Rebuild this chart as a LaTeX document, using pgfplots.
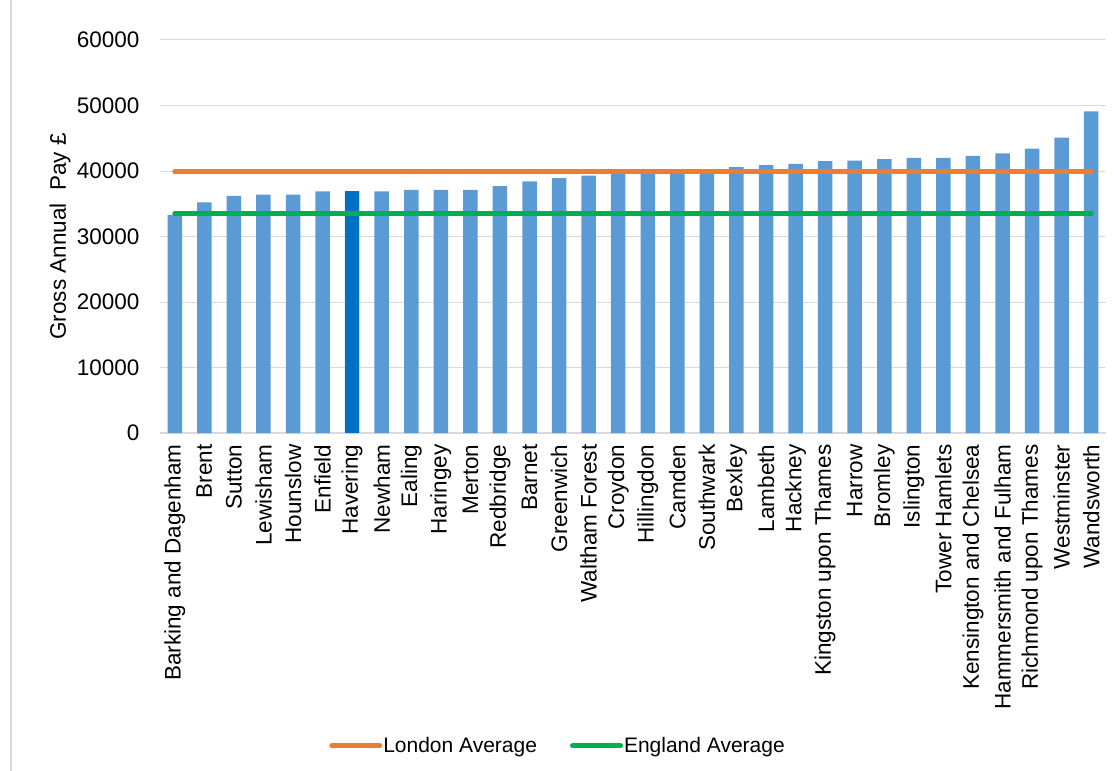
\documentclass[border=0pt]{standalone}
\usepackage{pgfplots}
\pgfplotsset{compat=1.18}
\usepackage{fontspec}
\setmainfont{Liberation Sans}
\definecolor{barblue}{HTML}{5B9BD5}
\definecolor{darkblue}{HTML}{0070C0}
\definecolor{lorange}{HTML}{ED7D31}
\definecolor{egreen}{HTML}{00B050}
\definecolor{gridgray}{HTML}{D9D9D9}
\begin{document}
\begin{tikzpicture}[font=\fontsize{22.5bp}{27bp}\selectfont]
\useasboundingbox (-160bp,-338bp) rectangle (959bp,433bp);
\draw[gridgray, line width=1.5bp] (-149bp,-338bp) -- (-149bp,433bp);
\begin{axis}[
  at={(0,0)}, anchor=south west,
  scale only axis, width=946bp, height=393bp,
  xmin=-0.5, xmax=31.5, ymin=0, ymax=60000,
  ytick={0,10000,...,60000},
  xtick={0,...,31},
  xticklabels={Barking and Dagenham,Brent,Sutton,Lewisham,Hounslow,Enfield,Havering,Newham,Ealing,Haringey,Merton,Redbridge,Barnet,Greenwich,Waltham Forest,Croydon,Hillingdon,Camden,Southwark,Bexley,Lambeth,Hackney,Kingston upon Thames,Harrow,Bromley,Islington,Tower Hamlets,Kensington and Chelsea,Hammersmith and Fulham,Richmond upon Thames,Westminster,Wandsworth},
  scaled y ticks=false,
  /pgf/number format/assume math mode=true,
  yticklabel style={/pgf/number format/fixed, /pgf/number format/1000 sep={}, font=\fontsize{22.5bp}{27bp}\selectfont, xshift=-17bp},
  xticklabel style={rotate=90, anchor=east, font=\fontsize{22.5bp}{27bp}\selectfont, xshift=-8bp},
  major tick length=0pt,
  axis x line*=bottom, axis y line*=left,
  x axis line style={draw=gridgray, line width=1.5bp, -},
  y axis line style={draw=none},
  ymajorgrids, grid style={draw=gridgray, line width=1bp},
  ylabel={Gross Annual\ \ Pay £},
  ylabel style={at={(axis description cs:-0.1057,0.5)}, anchor=center, font=\fontsize{22.5bp}{27bp}\selectfont},
  legend style={at={(axis description cs:0.4202,-0.796)}, anchor=center, draw=none, fill=none, legend columns=2, font=\fontsize{21bp}{25bp}\selectfont, nodes={inner sep=1bp}, /tikz/every even column/.append style={column sep=32bp}},
  legend image code/.code={\draw[#1] (0bp,0bp) -- (48bp,0bp);},
]
\addplot[ybar, bar width=14.5bp, bar shift=0pt, fill=barblue, draw=none, forget plot] coordinates {
(0,33300) (1,35200) (2,36200) (3,36400) (4,36400) (5,36900) (6,36900) (7,36900)
(8,37100) (9,37100) (10,37100) (11,37700) (12,38400) (13,38900) (14,39300) (15,39600)
(16,39700) (17,39800) (18,39900) (19,40600) (20,40900) (21,41100) (22,41500) (23,41600)
(24,41800) (25,42000) (26,42000) (27,42300) (28,42700) (29,43400) (30,45100) (31,49100)};
\addplot[ybar, bar width=14.5bp, bar shift=0pt, fill=darkblue, draw=none, forget plot] coordinates {(6,36900)};
\addplot[sharp plot, no marks, color=lorange, line width=5bp, line cap=round] coordinates {(0,39900) (31,39900)};
\addlegendentry{London Average}
\addplot[sharp plot, no marks, color=egreen, line width=5bp, line cap=round] coordinates {(0,33500) (31,33500)};
\addlegendentry{England Average}
\end{axis}
\end{tikzpicture}
\end{document}
